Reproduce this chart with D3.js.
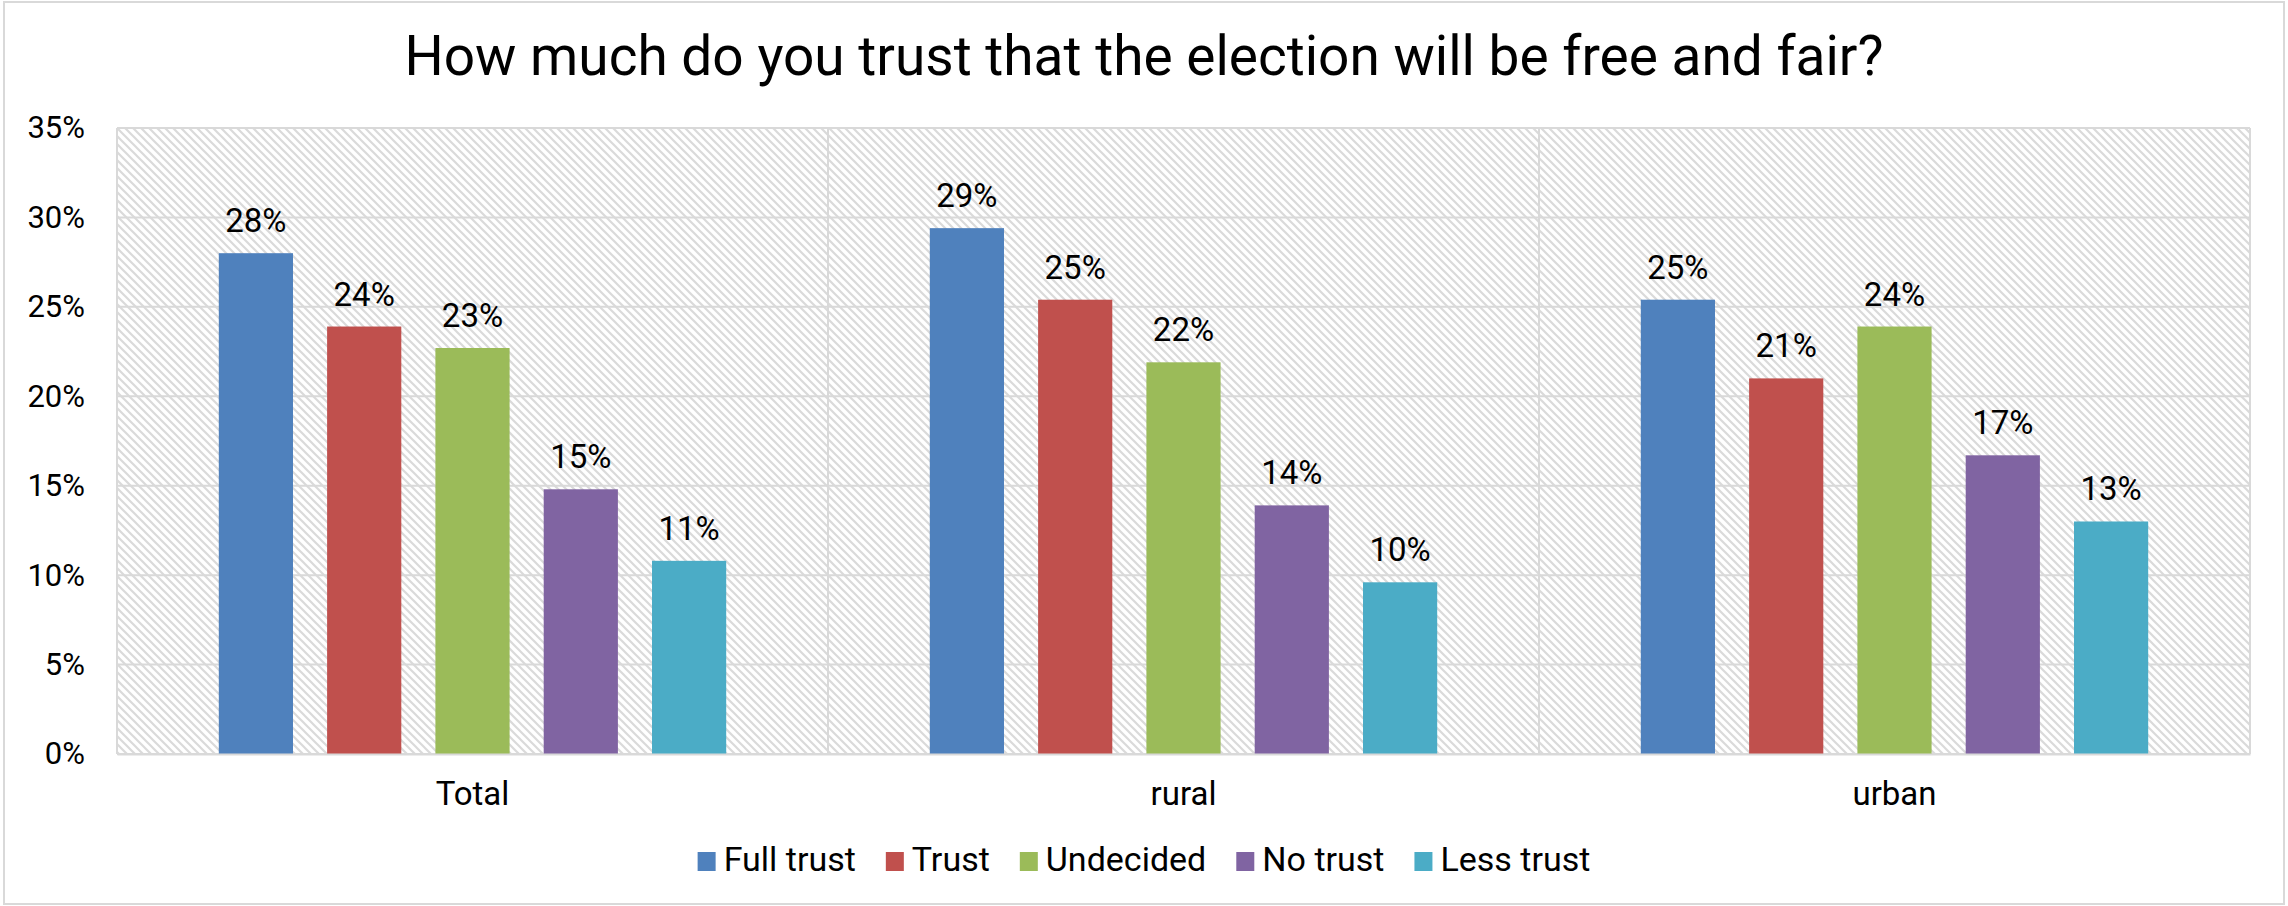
<!DOCTYPE html>
<html>
<head>
<meta charset="utf-8">
<script src="https://cdn.jsdelivr.net/npm/d3@7"></script>
<style>
  body { margin: 0; background: #fff; }
  text { font-family: Roboto, "Noto Sans", sans-serif; fill: #000; }
</style>
</head>
<body>
<svg id="chart"></svg>
<script>
const categories = ["Total", "rural", "urban"]
const seriesNames = ["Full trust", "Trust", "Undecided", "No trust", "Less trust"]
const fullTrust = [0.280, 0.294, 0.254]
const trust = [0.239, 0.254, 0.210]
const undecided = [0.227, 0.219, 0.239]
const noTrust = [0.148, 0.139, 0.167]
const lessTrust = [0.108, 0.096, 0.130]
const yTicks = [0, 0.05, 0.10, 0.15, 0.20, 0.25, 0.30, 0.35]
const colors = ["#4f81bd", "#c0504d", "#9bbb59", "#8064a2", "#4bacc6"]

function drawChart() {
const svgWidth = 2288
const svgHeight = 906
const margin = ({top: 128, right: 38, bottom: 152, left: 117})
const width = svgWidth - margin.left - margin.right
const height = svgHeight - margin.top - margin.bottom

const svg = d3.select("#chart")
    .attr("width", svgWidth)
    .attr("height", svgHeight)

// chart border
svg.append("rect")
    .attr("x", 4).attr("y", 2)
    .attr("width", svgWidth - 8).attr("height", svgHeight - 4)
    .attr("fill", "#fff")
    .attr("stroke", "#d9d9d9").attr("stroke-width", 2)

// hatched plot background
const pattern = svg.append("defs").append("pattern")
    .attr("id", "hatch")
    .attr("patternUnits", "userSpaceOnUse")
    .attr("width", 8).attr("height", 8)
pattern.append("rect").attr("width", 8).attr("height", 8).attr("fill", "#fff")
pattern.append("path")
    .attr("d", "M-2,6 L2,10 M0,0 L8,8 M6,-2 L10,2")
    .attr("stroke", "#dadada").attr("stroke-width", 2.2)

const rows = seriesNames.map((name, i) => ({
    name: name,
    values: [fullTrust, trust, undecided, noTrust, lessTrust][i]
}))

const x0 = d3.scaleBand()
    .domain(categories)
    .range([0, width])
    .padding(0)

const x1 = d3.scaleBand()
    .domain(seriesNames)
    .range([0, x0.bandwidth()])
    .paddingInner(0.315)
    .paddingOuter(0.94)

const yScale = d3.scaleLinear()
    .domain([0, 0.35])
    .range([height, 0])

const color = d3.scaleOrdinal().domain(seriesNames).range(colors)

const plot = svg.append("g")
    .attr("transform", `translate(${margin.left}, ${margin.top})`)

plot.append("rect")
    .attr("width", width).attr("height", height)
    .attr("fill", "url(#hatch)")

// horizontal gridlines
plot.append("g")
    .selectAll("line")
    .data(yTicks)
    .join("line")
    .attr("x1", 0).attr("x2", width)
    .attr("y1", d => yScale(d)).attr("y2", d => yScale(d))
    .attr("stroke", "#d9d9d9").attr("stroke-width", 2)

// vertical gridlines between categories
plot.append("g")
    .selectAll("line")
    .data(categories.concat(["end"]))
    .join("line")
    .attr("x1", (d, i) => i * x0.step()).attr("x2", (d, i) => i * x0.step())
    .attr("y1", 0).attr("y2", height)
    .attr("stroke", "#d9d9d9").attr("stroke-width", 2)

// bars
const groups = plot.append("g")
    .selectAll("g")
    .data(categories)
    .join("g")
    .attr("transform", d => `translate(${x0(d)}, 0)`)

groups.selectAll("rect")
    .data((c, ci) => rows.map(r => ({name: r.name, value: r.values[ci]})))
    .join("rect")
    .attr("x", d => x1(d.name))
    .attr("y", d => yScale(d.value))
    .attr("width", x1.bandwidth())
    .attr("height", d => yScale(0) - yScale(d.value))
    .attr("fill", d => color(d.name))

groups.selectAll("text")
    .data((c, ci) => rows.map(r => ({name: r.name, value: r.values[ci]})))
    .join("text")
    .attr("x", d => x1(d.name) + x1.bandwidth() / 2)
    .attr("y", d => yScale(d.value) - 21)
    .attr("text-anchor", "middle")
    .attr("font-size", "33px")
    .text(d => d3.format(".0%")(d.value))

// y axis
const yAxis = svg.append("g")
    .attr("transform", `translate(${margin.left}, ${margin.top})`)
    .call(d3.axisLeft(yScale).tickValues(yTicks).tickFormat(d3.format(".0%")).tickSize(0).tickPadding(32))
yAxis.select(".domain").remove()
yAxis.selectAll("text").attr("font-size", "31px").attr("font-family", "Roboto").attr("fill", "#000")

// x axis
const xAxis = svg.append("g")
    .attr("transform", `translate(${margin.left}, ${margin.top + height})`)
    .call(d3.axisBottom(x0).tickSize(0).tickPadding(28))
xAxis.select(".domain").attr("stroke", "#d9d9d9").attr("stroke-width", 2)
xAxis.selectAll("text").attr("font-size", "33px").attr("font-family", "Roboto").attr("fill", "#000")

// title
svg.append("text")
    .attr("x", svgWidth / 2)
    .attr("y", 75)
    .attr("text-anchor", "middle")
    .attr("font-size", "55px")
    .text("How much do you trust that the election will be free and fair?")

// legend
const legend = svg.append("g")
const items = legend.selectAll("g")
    .data(seriesNames)
    .join("g")
items.append("rect")
    .attr("y", 852).attr("width", 18).attr("height", 19)
    .attr("fill", d => color(d))
items.append("text")
    .attr("x", 26).attr("y", 871)
    .attr("font-size", "34px")
    .text(d => d)
let offset = 0
items.each(function () {
    const g = d3.select(this)
    g.attr("transform", `translate(${offset}, 0)`)
    offset += 26 + g.select("text").node().getComputedTextLength() + 30
})
offset -= 30
legend.attr("transform", `translate(${svgWidth / 2 - offset / 2}, 0)`)
}

drawChart()
</script>
</body>
</html>
